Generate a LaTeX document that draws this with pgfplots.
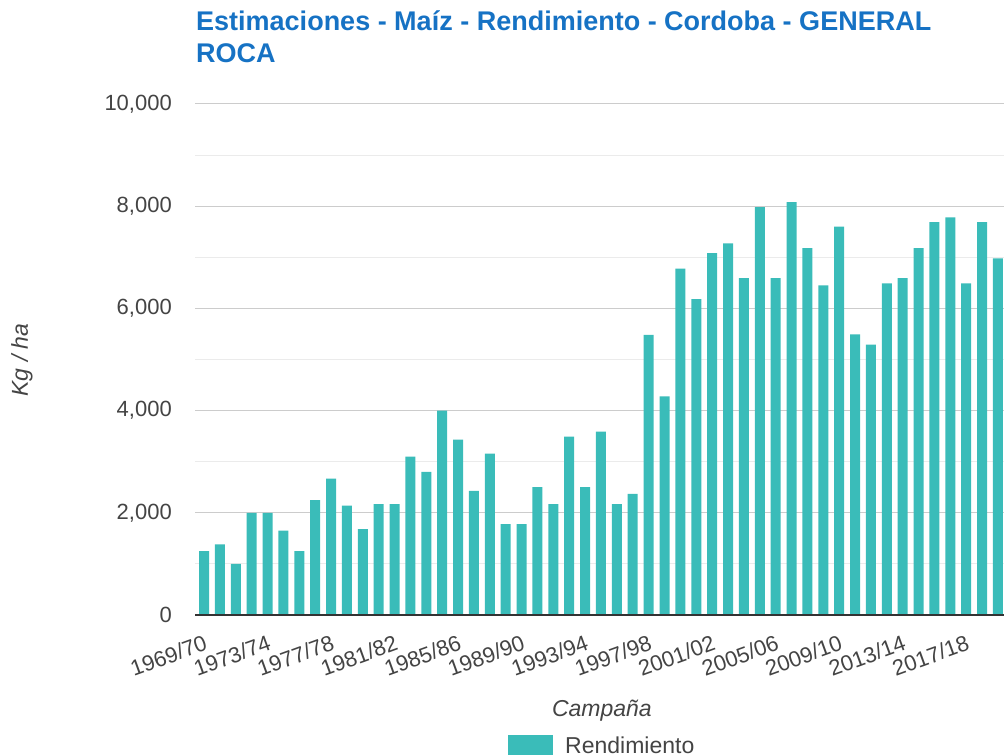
\documentclass[border=0pt]{standalone}
\usepackage{fontspec}
\setmainfont{Liberation Sans}
\usepackage{pgfplots}
\pgfplotsset{compat=1.18}
\definecolor{barc}{RGB}{58,188,185}
\definecolor{titc}{RGB}{22,114,196}
\definecolor{txtc}{RGB}{68,68,68}
\definecolor{gmaj}{RGB}{204,204,204}
\definecolor{gmin}{RGB}{235,235,235}
\definecolor{basec}{RGB}{51,51,51}
\begin{document}
\begin{tikzpicture}[x=1pt,y=1pt]
\path[use as bounding box] (0,0) rectangle (1004,755);
\node[anchor=base west, inner sep=0pt, text=titc, font=\fontsize{27}{32}\selectfont\bfseries] at (196,724) {Estimaciones - Maíz - Rendimiento - Cordoba - GENERAL};
\node[anchor=base west, inner sep=0pt, text=titc, font=\fontsize{27}{32}\selectfont\bfseries] at (196,692) {ROCA};
\begin{axis}[
  at={(195pt,140pt)}, anchor=south west,
  scale only axis, width=809pt, height=511pt,
  xmin=-0.567, xmax=50.38, ymin=0, ymax=10000,
  ybar, bar width=0.63, bar shift=0pt,
  axis line style={draw=none},
  major tick length=0pt, minor tick length=0pt,
  ytick={0,2000,4000,6000,8000,10000},
  minor ytick={1000,3000,5000,7000,9000},
  ymajorgrids, yminorgrids,
  major grid style={gmaj, line width=1pt},
  minor grid style={gmin, line width=1pt},
  scaled y ticks=false,
  /pgf/number format/.cd, 1000 sep={,}, assume math mode=true, /pgfplots/.cd,
  yticklabel style={text=txtc, font=\fontsize{22}{26}\selectfont, anchor=east, inner sep=0pt, xshift=-23pt},
  xtick={0,4,8,12,16,20,24,28,32,36,40,44,48},
  xticklabels={1969/70,1973/74,1977/78,1981/82,1985/86,1989/90,1993/94,1997/98,2001/02,2005/06,2009/10,2013/14,2017/18},
  xticklabel style={text=txtc, font=\fontsize{22}{26}\selectfont, inner sep=0pt, xshift=2pt, yshift=-27pt, rotate=20, anchor=east},
  xlabel={Campaña},
  xlabel style={at={(axis description cs:0.503,-0.1879)}, anchor=center, text=txtc, font=\fontsize{23}{27}\selectfont\itshape},
  ylabel={Kg / ha},
  ylabel style={at={(axis description cs:-0.2138,0.499)}, anchor=center, text=txtc, font=\fontsize{23}{27}\selectfont\itshape},
  legend style={at={(axis description cs:0.3869,-0.2564)}, anchor=west, draw=none, fill=none, inner sep=0pt,
    font=\fontsize{23}{27}\selectfont, text=txtc, nodes={inner sep=0pt},
    /tikz/every odd column/.append style={column sep=12pt}},
  legend image code/.code={\fill[barc] (0pt,-11pt) rectangle (45pt,11pt);},
]
\addplot[fill=barc, draw=none] coordinates {
(0,1250) (1,1380) (2,1000) (3,2000) (4,2000) (5,1650) (6,1250) (7,2250) (8,2670) (9,2140)
(10,1680) (11,2170) (12,2170) (13,3100) (14,2800) (15,4000) (16,3430) (17,2430) (18,3160) (19,1780)
(20,1780) (21,2500) (22,2170) (23,3490) (24,2500) (25,3590) (26,2170) (27,2370) (28,5480) (29,4280)
(30,6780) (31,6180) (32,7080) (33,7270) (34,6590) (35,7980) (36,6590) (37,8080) (38,7180) (39,6450)
(40,7600) (41,5490) (42,5290) (43,6490) (44,6590) (45,7180) (46,7690) (47,7780) (48,6490) (49,7690)
(50,6980)
};
\addlegendentry{Rendimiento}
\draw[basec, line width=2pt] (rel axis cs:0,0) -- (rel axis cs:1,0);
\end{axis}
\end{tikzpicture}
\end{document}
